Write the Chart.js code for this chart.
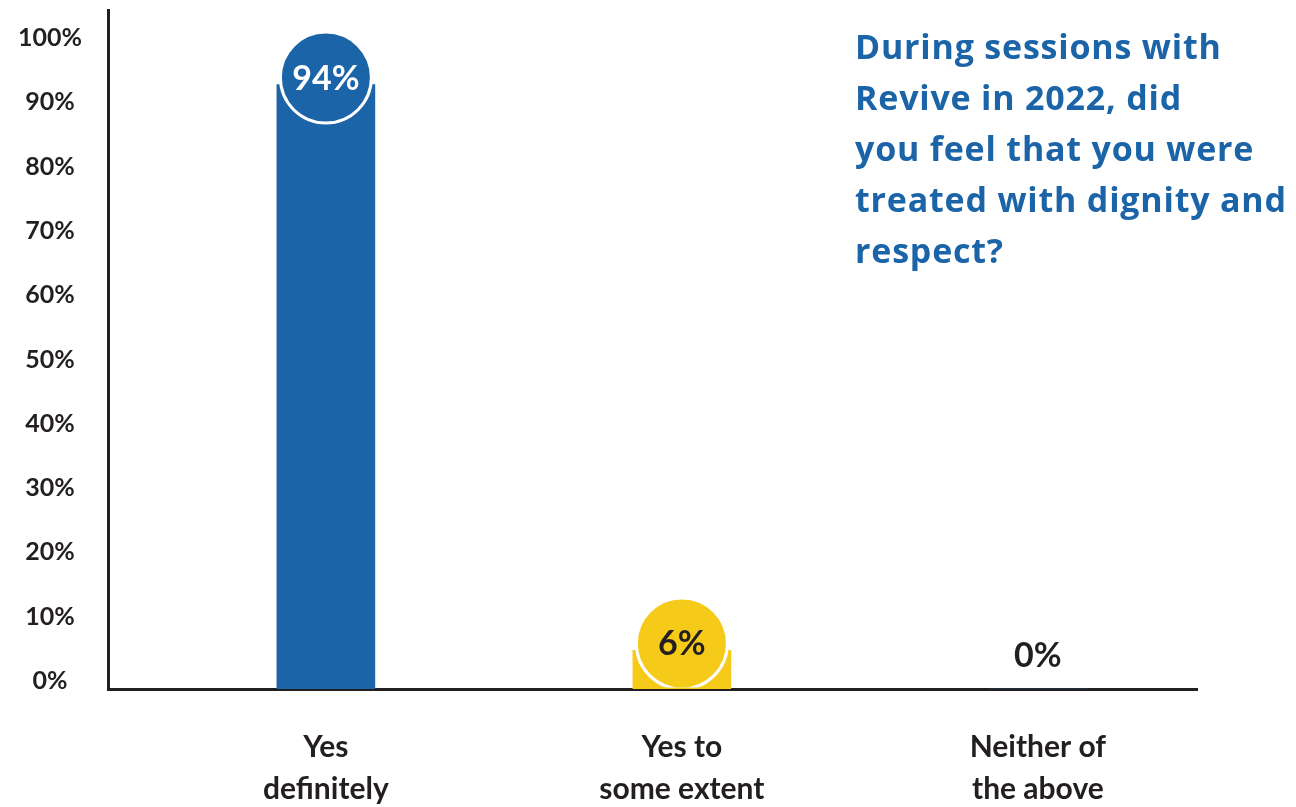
<!DOCTYPE html>
<html>
<head>
<meta charset="utf-8">
<script src="https://cdn.jsdelivr.net/npm/chart.js@4"></script>
<style>
  html, body { margin: 0; padding: 0; background: #ffffff; }
  #wrap { width: 1296px; height: 807px; position: relative; }
</style>
</head>
<body>
<div id="wrap"><canvas id="chart"></canvas></div>
<script>
// Survey answers and their shares (%)
const categories = [
  ['Yes', 'definitely'],
  ['Yes to', 'some extent'],
  ['Neither of', 'the above']
];
const values = [94, 6, 0];
const barColors = ['#1b64a7', '#f6ca18', '#1b64a7'];
const valueTextColors = ['#ffffff', '#231f20', '#231f20'];
const yTickValues = [0, 10, 20, 30, 40, 50, 60, 70, 80, 90, 100];
const titleLines = [
  'During sessions with',
  'Revive in 2022, did',
  'you feel that you were',
  'treated with dignity and',
  'respect?'
];

const INK = '#231f20';
const BLUE = '#1b64a7';
Chart.defaults.font.family = 'Lato, "Open Sans", sans-serif';

// Round badge with the value on top of each bar; plain text for empty bars
const valueBadges = {
  id: 'valueBadges',
  afterDatasetsDraw(chart) {
    const ctx = chart.ctx;
    const area = chart.chartArea;
    const meta = chart.getDatasetMeta(0);
    meta.data.forEach((bar, i) => {
      const v = values[i];
      ctx.save();
      ctx.beginPath();
      ctx.rect(area.left, area.top, area.right - area.left, area.bottom - area.top - 1.5);
      ctx.clip();
      ctx.font = 'bold 34px Lato, "Open Sans", sans-serif';
      ctx.textAlign = 'center';
      ctx.textBaseline = 'middle';
      if (v > 0) {
        const cy = bar.y - 7;
        ctx.beginPath();
        ctx.arc(bar.x, cy, 45.5, 0, Math.PI * 2);
        ctx.fillStyle = barColors[i];
        ctx.fill();
        ctx.lineWidth = 3;
        ctx.strokeStyle = '#ffffff';
        ctx.stroke();
        ctx.fillStyle = valueTextColors[i];
        ctx.fillText(v + '%', bar.x, cy + 1);
      } else {
        ctx.fillStyle = valueTextColors[i];
        ctx.fillText(v + '%', bar.x, bar.y - 33);
      }
      ctx.restore();
    });
  }
};

// Question text in the upper right
const questionText = {
  id: 'questionText',
  afterDraw(chart) {
    const ctx = chart.ctx;
    ctx.save();
    ctx.font = 'bold 34px "Open Sans", Lato, sans-serif';
    if ('letterSpacing' in ctx) ctx.letterSpacing = '0.8px';
    ctx.fillStyle = BLUE;
    ctx.textAlign = 'left';
    ctx.textBaseline = 'alphabetic';
    titleLines.forEach((line, i) => {
      ctx.fillText(line, 855, 59 + i * 51);
    });
    ctx.restore();
  }
};

new Chart(document.getElementById('chart'), {
  type: 'bar',
  data: {
    datasets: [{
      data: values.map((v, i) => ({ x: i, y: v })),
      backgroundColor: barColors,
      borderWidth: 0,
      barThickness: 98
    }]
  },
  options: {
    responsive: true,
    maintainAspectRatio: false,
    animation: false,
    layout: { padding: { top: 10, right: 99, bottom: 0, left: 0 } },
    plugins: {
      legend: { display: false },
      tooltip: { enabled: false }
    },
    scales: {
      x: {
        type: 'linear',
        offset: false,
        min: -0.612,
        max: 2.447,
        grid: { display: false, drawTicks: false, offset: false },
        border: { display: true, color: INK, width: 3 },
        afterBuildTicks: (scale) => { scale.ticks = categories.map((_, i) => ({ value: i })); },
        afterFit: (scale) => {
          scale.height = 118;
          scale.paddingLeft = 0;
          scale.paddingRight = 0;
        },
        ticks: {
          autoSkip: false,
          maxRotation: 0,
          padding: 37,
          color: INK,
          font: { size: 30, weight: 'bold', lineHeight: 1.4 },
          callback: (v) => categories[v]
        }
      },
      y: {
        min: 0,
        max: 105.6,
        grid: { display: false, drawTicks: false },
        border: { display: true, color: INK, width: 3 },
        afterBuildTicks: (scale) => { scale.ticks = yTickValues.map(v => ({ value: v })); },
        afterFit: (scale) => {
          scale.width = 108;
          scale.paddingTop = 0;
          scale.paddingBottom = 0;
        },
        ticks: {
          crossAlign: 'center',
          padding: 26,
          labelOffset: -8,
          color: INK,
          font: { size: 25, weight: 'bold' },
          callback: (v) => v + '%'
        }
      }
    }
  },
  plugins: [valueBadges, questionText]
});
</script>
</body>
</html>
